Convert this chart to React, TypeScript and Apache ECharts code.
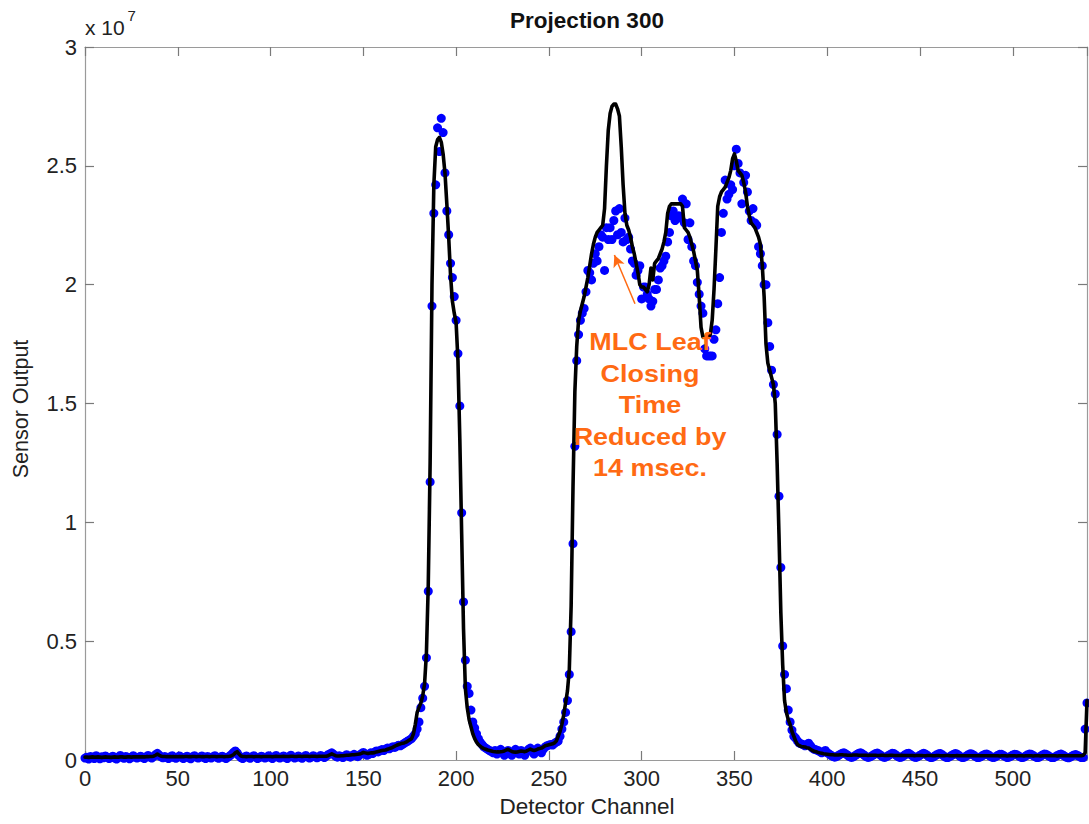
import React, { useEffect, useRef } from 'react';
import * as echarts from 'echarts';

// Sensor output in units of 1e7, one value per detector channel (0..540)
const measured: number[] = [
  0.008, 0.012, 0.004, 0.015, 0.010, 0.006, 0.018, 0.011, 0.005, 0.014,
  0.009, 0.017, 0.012, 0.006, 0.010, 0.016, 0.008, 0.004, 0.013, 0.019,
  0.011, 0.007, 0.015, 0.012, 0.005, 0.010, 0.018, 0.013, 0.008, 0.012,
  0.016, 0.010, 0.006, 0.014, 0.019, 0.012, 0.008, 0.015, 0.022, 0.028,
  0.020, 0.013, 0.009, 0.015, 0.011, 0.006, 0.014, 0.018, 0.010, 0.007,
  0.013, 0.017, 0.011, 0.006, 0.012, 0.016, 0.009, 0.005, 0.014, 0.018,
  0.012, 0.008, 0.013, 0.017, 0.010, 0.006, 0.015, 0.012, 0.008, 0.014,
  0.018, 0.011, 0.007, 0.013, 0.016, 0.010, 0.006, 0.012, 0.017, 0.024,
  0.032, 0.038, 0.030, 0.018, 0.010, 0.006, 0.013, 0.017, 0.011, 0.007,
  0.014, 0.018, 0.012, 0.006, 0.010, 0.016, 0.013, 0.008, 0.012, 0.018,
  0.011, 0.006, 0.014, 0.019, 0.012, 0.008, 0.013, 0.017, 0.010, 0.006,
  0.015, 0.020, 0.013, 0.008, 0.012, 0.017, 0.011, 0.007, 0.014, 0.019,
  0.013, 0.008, 0.012, 0.018, 0.014, 0.009, 0.013, 0.019, 0.015, 0.010,
  0.016, 0.022, 0.026, 0.030, 0.024, 0.016, 0.012, 0.018, 0.014, 0.010,
  0.017, 0.022, 0.016, 0.012, 0.019, 0.024, 0.018, 0.014, 0.021, 0.027,
  0.032, 0.026, 0.020, 0.024, 0.030, 0.027, 0.033, 0.038, 0.034, 0.040,
  0.044, 0.040, 0.046, 0.050, 0.047, 0.052, 0.056, 0.053, 0.058, 0.062,
  0.060, 0.065, 0.070, 0.075, 0.080, 0.085, 0.090, 0.100, 0.110, 0.130,
  0.160, 0.220, 0.260, 0.310, 0.430, 0.710, 1.170, 1.910, 2.300, 2.420,
  2.660, 2.560, 2.700, 2.640, 2.470, 2.310, 2.210, 2.090, 2.030, 1.950,
  1.850, 1.710, 1.490, 1.040, 0.665, 0.420, 0.310, 0.280, 0.210, 0.160,
  0.135, 0.110, 0.090, 0.075, 0.065, 0.055, 0.050, 0.045, 0.040, 0.035,
  0.030, 0.040, 0.025, 0.035, 0.045, 0.030, 0.020, 0.035, 0.040, 0.030,
  0.020, 0.035, 0.045, 0.030, 0.025, 0.040, 0.030, 0.020, 0.035, 0.045,
  0.050, 0.035, 0.025, 0.040, 0.050, 0.040, 0.030, 0.045, 0.055, 0.060,
  0.063, 0.065, 0.063, 0.070, 0.075, 0.080, 0.100, 0.130, 0.160, 0.200,
  0.250, 0.360, 0.540, 0.910, 1.320, 1.680, 1.790, 1.850, 1.880, 1.900,
  1.970, 2.060, 2.050, 2.020, 2.090, 2.130, 2.100, 2.160, 2.210, 2.200,
  2.060, 2.240, 2.190, 2.240, 2.190, 2.270, 2.310, 2.210, 2.320, 2.220,
  2.180, 2.280, 2.190, 2.200, 2.150, 2.100, 2.090, 2.040, 2.060, 2.080,
  1.940, 1.990, 1.990, 1.960, 1.940, 1.910, 1.930, 1.980, 1.980, 2.020,
  2.070, 2.080, 2.100, 2.120, 2.180, 2.220, 2.290, 2.310, 2.270, 2.280,
  2.290, 2.280, 2.360, 2.260, 2.340, 2.190, 2.260, 2.160, 2.100, 2.080,
  2.010, 1.960, 1.910, 1.880, 1.730, 1.700, 1.700, 1.700, 1.700, 1.770,
  1.810, 1.920, 2.030, 2.220, 2.300, 2.440, 2.360, 2.380, 2.420, 2.400,
  2.500, 2.570, 2.510, 2.470, 2.340, 2.430, 2.460, 2.390, 2.310, 2.270,
  2.320, 2.260, 2.250, 2.160, 2.130, 2.080, 2.000, 2.000, 1.840, 1.740,
  1.640, 1.580, 1.540, 1.370, 1.110, 0.810, 0.480, 0.360, 0.300, 0.210,
  0.160, 0.126, 0.100, 0.092, 0.080, 0.071, 0.068, 0.065, 0.060, 0.065,
  0.071, 0.060, 0.050, 0.045, 0.043, 0.040, 0.035, 0.030, 0.035, 0.040,
  0.030, 0.026, 0.020, 0.015, 0.012, 0.014, 0.019, 0.024, 0.028, 0.030,
  0.026, 0.020, 0.014, 0.011, 0.013, 0.018, 0.024, 0.028, 0.030, 0.026,
  0.020, 0.014, 0.011, 0.013, 0.017, 0.022, 0.027, 0.029, 0.025, 0.019,
  0.013, 0.011, 0.014, 0.019, 0.024, 0.028, 0.027, 0.021, 0.015, 0.011,
  0.012, 0.017, 0.022, 0.027, 0.028, 0.023, 0.017, 0.012, 0.011, 0.015,
  0.020, 0.025, 0.028, 0.025, 0.019, 0.013, 0.010, 0.012, 0.017, 0.022,
  0.026, 0.027, 0.022, 0.016, 0.011, 0.010, 0.014, 0.019, 0.024, 0.027,
  0.025, 0.019, 0.013, 0.010, 0.012, 0.017, 0.022, 0.026, 0.025, 0.020,
  0.014, 0.010, 0.011, 0.015, 0.020, 0.024, 0.025, 0.021, 0.015, 0.011,
  0.011, 0.015, 0.020, 0.024, 0.024, 0.019, 0.014, 0.010, 0.012, 0.016,
  0.021, 0.024, 0.023, 0.018, 0.013, 0.010, 0.012, 0.017, 0.022, 0.025,
  0.024, 0.019, 0.014, 0.010, 0.011, 0.016, 0.021, 0.025, 0.024, 0.019,
  0.014, 0.010, 0.010, 0.014, 0.019, 0.023, 0.025, 0.021, 0.016, 0.011,
  0.009, 0.012, 0.017, 0.021, 0.023, 0.019, 0.014, 0.010, 0.010, 0.130,
  0.240,
];

const expected: number[] = [
  0.012, 0.012, 0.011, 0.012, 0.013, 0.012, 0.012, 0.013, 0.012, 0.011,
  0.012, 0.013, 0.012, 0.012, 0.011, 0.012, 0.013, 0.012, 0.012, 0.013,
  0.013, 0.012, 0.012, 0.013, 0.013, 0.012, 0.013, 0.013, 0.014, 0.013,
  0.013, 0.014, 0.013, 0.014, 0.014, 0.015, 0.015, 0.016, 0.020, 0.025,
  0.020, 0.016, 0.015, 0.015, 0.014, 0.014, 0.015, 0.014, 0.014, 0.015,
  0.014, 0.015, 0.014, 0.014, 0.015, 0.015, 0.014, 0.014, 0.015, 0.015,
  0.014, 0.015, 0.015, 0.014, 0.014, 0.015, 0.015, 0.014, 0.015, 0.015,
  0.015, 0.014, 0.015, 0.015, 0.015, 0.014, 0.015, 0.015, 0.016, 0.018,
  0.022, 0.030, 0.035, 0.025, 0.017, 0.015, 0.015, 0.014, 0.015, 0.015,
  0.015, 0.014, 0.015, 0.015, 0.015, 0.014, 0.015, 0.015, 0.015, 0.015,
  0.015, 0.014, 0.015, 0.016, 0.015, 0.015, 0.015, 0.016, 0.015, 0.015,
  0.015, 0.016, 0.016, 0.015, 0.015, 0.016, 0.016, 0.015, 0.016, 0.016,
  0.016, 0.015, 0.016, 0.016, 0.016, 0.015, 0.016, 0.016, 0.016, 0.016,
  0.016, 0.018, 0.022, 0.026, 0.022, 0.018, 0.017, 0.017, 0.018, 0.018,
  0.019, 0.020, 0.020, 0.021, 0.022, 0.022, 0.023, 0.024, 0.025, 0.028,
  0.032, 0.030, 0.028, 0.028, 0.030, 0.030, 0.031, 0.034, 0.036, 0.038,
  0.040, 0.041, 0.042, 0.045, 0.048, 0.050, 0.054, 0.058, 0.062, 0.065,
  0.068, 0.070, 0.072, 0.075, 0.080, 0.085, 0.090, 0.110, 0.150, 0.200,
  0.220, 0.240, 0.270, 0.320, 0.450, 0.740, 1.250, 2.000, 2.420, 2.580,
  2.610, 2.620, 2.600, 2.550, 2.470, 2.340, 2.200, 2.040, 1.930, 1.880,
  1.840, 1.680, 1.350, 0.950, 0.550, 0.300, 0.220, 0.170, 0.140, 0.110,
  0.090, 0.075, 0.065, 0.058, 0.052, 0.048, 0.045, 0.042, 0.040, 0.038,
  0.036, 0.035, 0.034, 0.034, 0.035, 0.036, 0.038, 0.042, 0.045, 0.040,
  0.036, 0.034, 0.033, 0.034, 0.036, 0.038, 0.037, 0.035, 0.038, 0.042,
  0.046, 0.042, 0.040, 0.042, 0.046, 0.048, 0.050, 0.055, 0.060, 0.062,
  0.064, 0.066, 0.068, 0.072, 0.080, 0.100, 0.120, 0.150, 0.190, 0.240,
  0.290, 0.380, 0.650, 1.150, 1.550, 1.740, 1.850, 1.890, 1.920, 1.950,
  1.990, 2.030, 2.080, 2.130, 2.170, 2.200, 2.220, 2.230, 2.240, 2.250,
  2.320, 2.500, 2.650, 2.720, 2.750, 2.760, 2.760, 2.740, 2.710, 2.580,
  2.420, 2.300, 2.250, 2.230, 2.200, 2.160, 2.130, 2.090, 2.050, 2.000,
  1.990, 1.990, 1.980, 1.970, 2.000, 2.070, 2.020, 2.090, 2.100, 2.110,
  2.130, 2.150, 2.180, 2.220, 2.300, 2.330, 2.340, 2.340, 2.340, 2.340,
  2.340, 2.340, 2.330, 2.240, 2.230, 2.220, 2.200, 2.170, 2.140, 2.100,
  2.060, 1.950, 1.820, 1.780, 1.780, 1.780, 1.780, 1.790, 1.850, 1.980,
  2.150, 2.330, 2.370, 2.390, 2.400, 2.410, 2.430, 2.450, 2.480, 2.530,
  2.550, 2.520, 2.480, 2.470, 2.460, 2.430, 2.390, 2.330, 2.290, 2.260,
  2.250, 2.240, 2.220, 2.200, 2.170, 2.080, 1.950, 1.750, 1.670, 1.640,
  1.610, 1.580, 1.500, 1.250, 0.950, 0.620, 0.400, 0.250, 0.200, 0.170,
  0.150, 0.120, 0.100, 0.080, 0.065, 0.060, 0.057, 0.056, 0.055, 0.052,
  0.050, 0.045, 0.040, 0.037, 0.035, 0.032, 0.030, 0.028, 0.026, 0.025,
  0.024, 0.023, 0.022, 0.022, 0.021, 0.021, 0.021, 0.022, 0.022, 0.021,
  0.021, 0.020, 0.020, 0.020, 0.021, 0.021, 0.021, 0.020, 0.020, 0.020,
  0.020, 0.020, 0.019, 0.020, 0.020, 0.020, 0.020, 0.019, 0.019, 0.020,
  0.020, 0.019, 0.019, 0.019, 0.020, 0.020, 0.019, 0.019, 0.019, 0.019,
  0.020, 0.019, 0.019, 0.019, 0.019, 0.019, 0.019, 0.018, 0.019, 0.019,
  0.019, 0.019, 0.018, 0.018, 0.019, 0.019, 0.019, 0.018, 0.018, 0.019,
  0.019, 0.018, 0.018, 0.018, 0.019, 0.019, 0.018, 0.018, 0.018, 0.018,
  0.019, 0.018, 0.018, 0.018, 0.018, 0.018, 0.018, 0.018, 0.018, 0.018,
  0.018, 0.018, 0.018, 0.018, 0.018, 0.018, 0.018, 0.018, 0.018, 0.018,
  0.018, 0.018, 0.018, 0.017, 0.018, 0.018, 0.018, 0.017, 0.018, 0.018,
  0.018, 0.018, 0.017, 0.018, 0.018, 0.018, 0.017, 0.018, 0.018, 0.018,
  0.018, 0.017, 0.018, 0.018, 0.018, 0.017, 0.018, 0.018, 0.018, 0.018,
  0.018, 0.018, 0.018, 0.018, 0.017, 0.018, 0.018, 0.018, 0.018, 0.018,
  0.018, 0.018, 0.018, 0.018, 0.018, 0.018, 0.018, 0.018, 0.020, 0.030,
  0.250,
];

const channels: number[] = measured.map((_, i) => i);

const xTickStep = 50;
const xMax = 540;
const yTickStep = 0.5;
const yMax = 3;

// Annotation arrow, in data coordinates (channel, output/1e7)
const arrowTail: [number, number] = [296.4, 1.92];
const arrowTip: [number, number] = [285.3, 2.125];

const FONT = "'Liberation Sans', Arial, Helvetica, sans-serif";
const ORANGE = '#FF6A13';
const AXIS_GRAY = '#9a9a9a';

export default function App() {
  const ref = useRef<HTMLDivElement>(null);

  useEffect(() => {
    if (!ref.current) return;
    const chart = echarts.init(ref.current, null, { renderer: 'svg' });

    const axisLine = { show: true, onZero: false, lineStyle: { color: AXIS_GRAY, width: 1.2 } };
    const axisTick = { show: true, inside: true, length: 9, lineStyle: { color: '#7a7a7a', width: 1.2 } };

    chart.setOption({
      animation: false,
      backgroundColor: '#ffffff',
      grid: { left: 85, right: 2, top: 47, bottom: 64, containLabel: false },
      xAxis: [
        {
          type: 'value', min: 0, max: xMax, interval: xTickStep, position: 'bottom',
          axisLine, axisTick, splitLine: { show: false },
          axisLabel: { color: '#222', fontSize: 22, fontFamily: FONT, margin: 7, showMaxLabel: false },
        },
        {
          type: 'value', min: 0, max: xMax, interval: xTickStep, position: 'top',
          axisLine, axisTick, splitLine: { show: false }, axisLabel: { show: false },
        },
      ],
      yAxis: [
        {
          type: 'value', min: 0, max: yMax, interval: yTickStep, position: 'left',
          axisLine, axisTick, splitLine: { show: false },
          axisLabel: { color: '#222', fontSize: 22, fontFamily: FONT, margin: 8, formatter: (v: number) => String(v) },
        },
        {
          type: 'value', min: 0, max: yMax, interval: yTickStep, position: 'right',
          axisLine, axisTick, splitLine: { show: false }, axisLabel: { show: false },
        },
      ],
      series: [
        {
          type: 'scatter',
          name: 'Measured',
          data: channels.map((c, i) => [c, measured[i]]),
          symbol: 'circle',
          symbolSize: 9,
          itemStyle: { color: '#0000FF', opacity: 1 },
          z: 2,
          silent: true,
        },
        {
          type: 'line',
          name: 'Expected',
          data: channels.map((c, i) => [c, expected[i]]),
          showSymbol: false,
          symbol: 'none',
          lineStyle: { color: '#000000', width: 3.6, join: 'round', cap: 'round' },
          z: 3,
          silent: true,
          markLine: {
            silent: true,
            symbol: ['none', 'arrow'],
            symbolSize: [9, 12],
            label: { show: false },
            lineStyle: { color: ORANGE, width: 1.5, type: 'solid' },
            data: [[{ coord: arrowTail }, { coord: arrowTip }]],
          },
        },
      ],
      graphic: [
        {
          type: 'text', x: 587, y: 20,
          style: { text: 'Projection 300', fontFamily: FONT, fontWeight: 'bold', fontSize: 22.5, fill: '#111', align: 'center', verticalAlign: 'middle' },
        },
        {
          type: 'text', x: 587, y: 806,
          style: { text: 'Detector Channel', fontFamily: FONT, fontSize: 22.5, fill: '#222', align: 'center', verticalAlign: 'middle' },
        },
        {
          type: 'text', x: 21, y: 409, rotation: Math.PI / 2,
          style: { text: 'Sensor Output', fontFamily: FONT, fontSize: 21.5, fill: '#222', align: 'center', verticalAlign: 'middle' },
        },
        {
          type: 'text', x: 85, y: 27.5,
          style: { text: 'x 10', fontFamily: FONT, fontSize: 21, fill: '#222', align: 'left', verticalAlign: 'middle' },
        },
        {
          type: 'text', x: 127.5, y: 15.5,
          style: { text: '7', fontFamily: FONT, fontSize: 15, fill: '#222', align: 'left', verticalAlign: 'middle' },
        },
        {
          type: 'text', x: 650, y: 326, z: 10, scaleX: 1.1,
          style: {
            text: 'MLC Leaf\nClosing\nTime\nReduced by\n14 msec.',
            fontFamily: FONT, fontWeight: 'bold', fontSize: 24.5, lineHeight: 31.5,
            fill: ORANGE, align: 'center', verticalAlign: 'top',
          },
        },
      ],
    });

    return () => chart.dispose();
  }, []);

  return (
    <div
      ref={ref}
      style={{ position: 'fixed', left: 0, top: 0, width: 1089, height: 824, background: '#fff' }}
    />
  );
}
